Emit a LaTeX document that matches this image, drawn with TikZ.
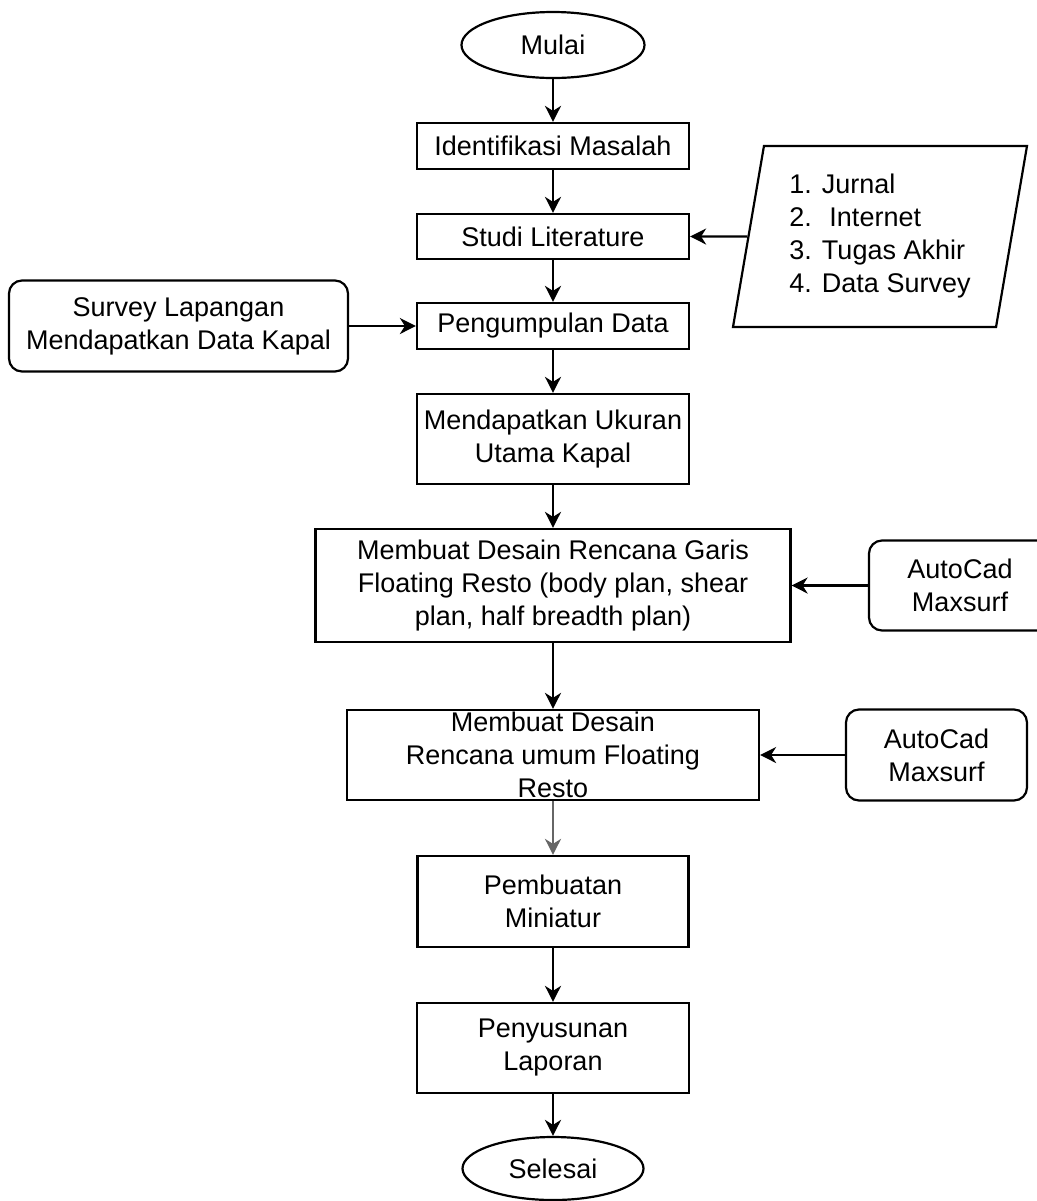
\documentclass[tikz,border=0pt]{standalone}
\usepackage{fontspec}
\setmainfont{Liberation Sans}
\usetikzlibrary{shapes.geometric,arrows.meta}

\begin{document}
\begin{tikzpicture}[x=0.5pt,y=0.5pt,line width=1.1pt,
        every node/.style={font=\fontsize{13.5}{16.5}\selectfont, align=center, inner sep=0pt},
        proc/.style={draw, rectangle, minimum width=#1},
        term/.style={draw, ellipse, minimum width=91.5pt, minimum height=33pt},
        side/.style={draw, rectangle, rounded corners=6.5pt, minimum width=#1, minimum height=45pt},
        data/.style={draw, trapezium, trapezium left angle=76, trapezium right angle=104,
            trapezium stretches body=true, minimum width=147pt, minimum height=90.5pt},
        flow/.style={-{Stealth[length=8pt,width=8pt,inset=2.5pt]}}]
                        % \helpgrid{3}{3}
    \useasboundingbox (0,0) rectangle (1037,-1201);

    \node (mulai) [term] at (553,-45) {Mulai};
    \node (ident) [proc=136pt, minimum height=23pt] at (553,-146) {Identifikasi Masalah};
    \node (studi) [proc=136pt, minimum height=22.5pt] at (553,-236.5) {Studi Literature};
    \node (kumpul) [proc=136pt, minimum height=23pt] at (553,-326) {Pengumpulan Data};
    \node (ukuran) [proc=136pt, minimum height=45pt] at (553,-439) {Mendapatkan Ukuran\\Utama Kapal};
    \node (garis) [proc=237.5pt, minimum height=56.5pt] at (553,-585.5) {Membuat Desain Rencana Garis\\Floating Resto (body plan, shear\\plan, half breadth plan)};
    \node (umum) [proc=206pt, minimum height=45pt] at (553,-755) {Membuat Desain\\Rencana umum Floating\\Resto};
    \node (miniatur) [proc=135.5pt, minimum height=45.5pt] at (553,-901.5) {Pembuatan\\Miniatur};
    \node (laporan) [proc=136pt, minimum height=45pt] at (553,-1048) {Penyusunan\\Laporan};
    \node (selesai) [term, minimum width=90.5pt, minimum height=31.5pt] at (553,-1168.5) {Selesai};

    \node (refs) [data, align=left] at (880,-236.5) {1. Jurnal\\2.~ Internet\\3. Tugas Akhir\\4. Data Survey};
    \node (survey) [side=169.5pt, minimum height=45.5pt] at (178.5,-326) {Survey Lapangan\\Mendapatkan Data Kapal};
    \node (cad1) [side=91pt] at (960,-585.5) {AutoCad\\Maxsurf};
    \node (cad2) [side=90.5pt, minimum height=45.5pt] at (936.5,-755) {AutoCad\\Maxsurf};

    \draw [flow] (mulai) -- (ident);
    \draw [flow] (ident) -- (studi);
    \draw [flow] (studi) -- (kumpul);
    \draw [flow] (kumpul) -- (ukuran);
    \draw [flow] (ukuran) -- (garis);
    \draw [flow] (garis) -- (umum);
    \draw [flow, draw=black!60] (umum) -- (miniatur);
    \draw [flow] (miniatur) -- (laporan);
    \draw [flow] (laporan) -- (selesai);

    \draw [flow] (refs) -- (studi);
    \draw [flow] (survey) -- (kumpul);
    \draw [flow] (cad1) -- (garis);
    \draw [flow] (cad2) -- (umum);
\end{tikzpicture}
\end{document}
